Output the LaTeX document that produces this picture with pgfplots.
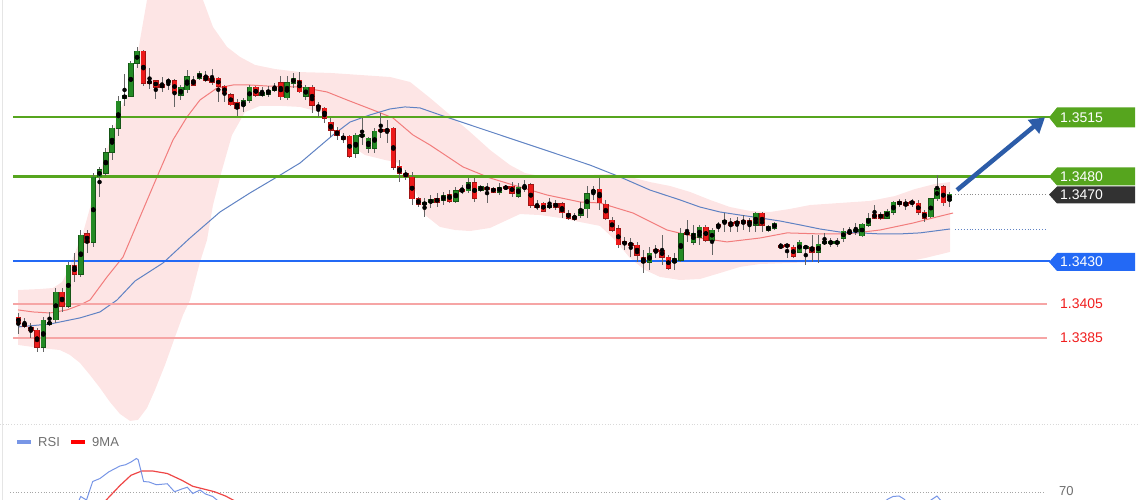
\documentclass[border=0pt]{standalone}
\usepackage{pgfplots}
\pgfplotsset{compat=1.18}
\usepackage{pgfplotstable}
\usepgfplotslibrary{fillbetween}
\usetikzlibrary{arrows.meta}
\usepackage{fontspec}
\setmainfont{Liberation Sans}

\definecolor{cgreen}{RGB}{36,138,36}
\definecolor{cgreenD}{RGB}{22,86,22}
\definecolor{cred}{RGB}{236,26,26}
\definecolor{credD}{RGB}{160,20,20}
\definecolor{wick}{RGB}{100,100,100}
\definecolor{band}{RGB}{253,229,229}
\definecolor{maRed}{RGB}{242,125,125}
\definecolor{maBlue}{RGB}{95,130,195}
\definecolor{lvlGreen}{RGB}{86,165,30}
\definecolor{lvlBlue}{RGB}{35,105,245}
\definecolor{lvlRed}{RGB}{246,165,165}
\definecolor{txtRed}{RGB}{240,30,30}
\definecolor{arrowBlue}{RGB}{44,92,168}
\definecolor{tagDark}{RGB}{50,50,50}
\definecolor{rsiBlue}{RGB}{120,150,230}
\definecolor{rsiRed}{RGB}{238,70,70}
\definecolor{txtGray}{RGB}{110,110,110}

\pgfplotstableread{
i o h l c
0 1.33973 1.33997 1.33873 1.33938
1 1.33938 1.33968 1.33909 1.33920
2 1.33915 1.33938 1.33850 1.33897
3 1.33897 1.33909 1.33767 1.33797
4 1.33797 1.33973 1.33767 1.33956
5 1.33932 1.34003 1.33926 1.33944
6 1.33956 1.34144 1.33938 1.34120
7 1.34120 1.34144 1.34003 1.34038
8 1.34038 1.34297 1.34026 1.34279
9 1.34279 1.34350 1.34179 1.34226
10 1.34226 1.34485 1.34209 1.34456
11 1.34462 1.34485 1.34350 1.34415
12 1.34415 1.34820 1.34385 1.34797
13 1.34797 1.34856 1.34679 1.34838
14 1.34820 1.34968 1.34803 1.34938
15 1.34944 1.35103 1.34897 1.35085
16 1.35085 1.35273 1.35038 1.35244
17 1.35262 1.35403 1.35215 1.35279
18 1.35273 1.35479 1.35268 1.35467
19 1.35467 1.35562 1.35438 1.35538
20 1.35538 1.35544 1.35332 1.35350
21 1.35362 1.35438 1.35315 1.35350
22 1.35362 1.35367 1.35256 1.35326
23 1.35338 1.35385 1.35297 1.35326
24 1.35356 1.35379 1.35309 1.35367
25 1.35362 1.35373 1.35209 1.35297
26 1.35279 1.35338 1.35250 1.35326
27 1.35309 1.35426 1.35291 1.35385
28 1.35367 1.35391 1.35332 1.35338
29 1.35379 1.35420 1.35367 1.35409
30 1.35385 1.35420 1.35356 1.35367
31 1.35379 1.35432 1.35338 1.35356
32 1.35379 1.35385 1.35238 1.35332
33 1.35332 1.35338 1.35238 1.35291
34 1.35279 1.35291 1.35215 1.35220
35 1.35238 1.35256 1.35156 1.35203
36 1.35215 1.35262 1.35179 1.35244
37 1.35250 1.35338 1.35232 1.35326
38 1.35326 1.35332 1.35268 1.35279
39 1.35279 1.35326 1.35268 1.35297
40 1.35285 1.35332 1.35268 1.35303
41 1.35309 1.35350 1.35297 1.35326
42 1.35350 1.35391 1.35250 1.35268
43 1.35262 1.35391 1.35250 1.35350
44 1.35350 1.35409 1.35320 1.35379
45 1.35367 1.35414 1.35291 1.35297
46 1.35273 1.35338 1.35250 1.35326
47 1.35326 1.35338 1.35173 1.35220
48 1.35220 1.35238 1.35150 1.35203
49 1.35203 1.35209 1.35115 1.35144
50 1.35120 1.35144 1.35032 1.35073
51 1.35073 1.35091 1.35015 1.35044
52 1.35038 1.35056 1.34997 1.35020
53 1.35038 1.35044 1.34909 1.34920
54 1.34938 1.35056 1.34909 1.35044
55 1.35038 1.35144 1.34985 1.35044
56 1.34968 1.35032 1.34938 1.35026
57 1.34968 1.35085 1.34938 1.35068
58 1.35073 1.35173 1.35026 1.35068
59 1.35079 1.35132 1.34997 1.35068
60 1.35085 1.35091 1.34838 1.34856
61 1.34862 1.34897 1.34767 1.34820
62 1.34820 1.34838 1.34779 1.34803
63 1.34797 1.34826 1.34632 1.34668
64 1.34668 1.34679 1.34620 1.34638
65 1.34638 1.34673 1.34562 1.34644
66 1.34644 1.34691 1.34615 1.34662
67 1.34673 1.34703 1.34620 1.34650
68 1.34662 1.34709 1.34632 1.34691
69 1.34697 1.34720 1.34644 1.34656
70 1.34656 1.34738 1.34644 1.34715
71 1.34720 1.34750 1.34697 1.34715
72 1.34715 1.34791 1.34703 1.34762
73 1.34762 1.34791 1.34650 1.34673
74 1.34720 1.34750 1.34709 1.34738
75 1.34732 1.34762 1.34644 1.34726
76 1.34732 1.34738 1.34703 1.34709
77 1.34709 1.34762 1.34691 1.34738
78 1.34738 1.34750 1.34720 1.34732
79 1.34744 1.34767 1.34679 1.34703
80 1.34685 1.34762 1.34673 1.34738
81 1.34738 1.34779 1.34709 1.34732
82 1.34750 1.34762 1.34615 1.34632
83 1.34632 1.34662 1.34603 1.34620
84 1.34644 1.34650 1.34591 1.34597
85 1.34620 1.34673 1.34609 1.34632
86 1.34644 1.34662 1.34603 1.34620
87 1.34638 1.34650 1.34556 1.34585
88 1.34585 1.34603 1.34544 1.34556
89 1.34568 1.34585 1.34538 1.34550
90 1.34573 1.34650 1.34556 1.34609
91 1.34609 1.34744 1.34556 1.34697
92 1.34709 1.34744 1.34662 1.34720
93 1.34726 1.34791 1.34603 1.34644
94 1.34638 1.34662 1.34544 1.34556
95 1.34544 1.34562 1.34473 1.34485
96 1.34491 1.34515 1.34379 1.34397
97 1.34415 1.34444 1.34368 1.34403
98 1.34409 1.34438 1.34326 1.34397
99 1.34397 1.34415 1.34297 1.34338
100 1.34326 1.34368 1.34232 1.34297
101 1.34297 1.34385 1.34250 1.34350
102 1.34368 1.34397 1.34320 1.34362
103 1.34368 1.34456 1.34279 1.34326
104 1.34326 1.34338 1.34250 1.34262
105 1.34297 1.34350 1.34250 1.34320
106 1.34309 1.34497 1.34297 1.34468
107 1.34473 1.34544 1.34415 1.34462
108 1.34415 1.34515 1.34397 1.34468
109 1.34444 1.34515 1.34397 1.34503
110 1.34503 1.34515 1.34415 1.34426
111 1.34426 1.34497 1.34338 1.34485
112 1.34515 1.34532 1.34473 1.34509
113 1.34532 1.34585 1.34473 1.34538
114 1.34532 1.34556 1.34473 1.34515
115 1.34532 1.34562 1.34473 1.34526
116 1.34544 1.34573 1.34485 1.34526
117 1.34544 1.34556 1.34473 1.34515
118 1.34515 1.34591 1.34473 1.34585
119 1.34585 1.34591 1.34473 1.34515
120 1.34485 1.34515 1.34473 1.34503
121 1.34497 1.34532 1.34485 1.34526
122 1.34391 1.34409 1.34379 1.34385
123 1.34397 1.34403 1.34320 1.34391
124 1.34385 1.34397 1.34320 1.34332
125 1.34356 1.34426 1.34350 1.34415
126 1.34379 1.34397 1.34279 1.34391
127 1.34385 1.34456 1.34297 1.34356
128 1.34356 1.34456 1.34291 1.34403
129 1.34409 1.34468 1.34397 1.34415
130 1.34409 1.34438 1.34385 1.34415
131 1.34409 1.34438 1.34385 1.34415
132 1.34438 1.34497 1.34415 1.34479
133 1.34473 1.34503 1.34456 1.34468
134 1.34479 1.34526 1.34456 1.34485
135 1.34450 1.34526 1.34444 1.34520
136 1.34515 1.34585 1.34503 1.34556
137 1.34579 1.34632 1.34550 1.34556
138 1.34579 1.34591 1.34544 1.34556
139 1.34556 1.34609 1.34550 1.34597
140 1.34591 1.34656 1.34573 1.34650
141 1.34650 1.34668 1.34620 1.34638
142 1.34650 1.34668 1.34603 1.34632
143 1.34650 1.34668 1.34620 1.34644
144 1.34644 1.34662 1.34573 1.34591
145 1.34591 1.34603 1.34532 1.34556
146 1.34562 1.34673 1.34556 1.34668
147 1.34668 1.34809 1.34656 1.34732
148 1.34738 1.34750 1.34626 1.34644
149 1.34662 1.34709 1.34620 1.34697
}\candles

\begin{document}
\begin{tikzpicture}[x=1pt,y=1pt]

% ---------------- main price panel ----------------
\begin{axis}[at={(0pt,75pt)}, anchor=south west, scale only axis,
  width=1140pt, height=425pt, xmin=0, xmax=1140,
  ymin=1.33338, ymax=1.35838, hide axis, clip=true]

% Bollinger band
\addplot[draw=none, name path=up, forget plot] coordinates {
(18,1.34132) (40,1.34138) (53,1.34144) (62,1.34179) (67,1.34232) (80,1.34426)
(83,1.34468) (97,1.34762) (110,1.35015) (120,1.35191) (133,1.35350) (140,1.35603)
(147,1.35838) (152,1.35956) (195,1.35956) (203,1.35838) (213,1.35679) (227,1.35562)
(240,1.35503) (255,1.35456) (275,1.35432) (300,1.35414) (330,1.35409) (360,1.35397)
(390,1.35385) (410,1.35356) (430,1.35262) (450,1.35162) (470,1.35062) (490,1.34956)
(510,1.34867) (525,1.34820) (545,1.34797) (570,1.34797) (590,1.34809) (610,1.34814)
(630,1.34797) (650,1.34767) (670,1.34744) (690,1.34709) (710,1.34662) (730,1.34620)
(750,1.34597) (770,1.34591) (790,1.34609) (810,1.34632) (840,1.34644) (870,1.34656)
(895,1.34685) (915,1.34726) (935,1.34756) (950,1.34767)};
\addplot[draw=none, name path=lo, forget plot] coordinates {
(18,1.33809) (40,1.33791) (60,1.33779) (70,1.33750) (80,1.33703) (90,1.33632)
(100,1.33556) (110,1.33473) (120,1.33403) (130,1.33362) (138,1.33368) (147,1.33438)
(155,1.33544) (165,1.33691) (175,1.33856) (183,1.33985) (190,1.34073) (200,1.34297)
(207,1.34426) (213,1.34632) (222,1.34838) (232,1.35044) (245,1.35179) (260,1.35215)
(280,1.35215) (300,1.35209) (320,1.35179) (335,1.35103) (350,1.34985) (365,1.34926)
(385,1.34897) (400,1.34879) (413,1.34750) (425,1.34573) (440,1.34503) (455,1.34485)
(470,1.34479) (490,1.34497) (505,1.34538) (520,1.34579) (540,1.34573) (560,1.34556)
(580,1.34532) (600,1.34509) (615,1.34426) (630,1.34320) (645,1.34250) (660,1.34209)
(680,1.34191) (700,1.34197) (720,1.34232) (740,1.34268) (760,1.34285) (790,1.34291)
(820,1.34297) (850,1.34297) (880,1.34303) (905,1.34297) (925,1.34320) (950,1.34356)};
\addplot[band, draw=none, on layer=main] fill between[of=up and lo];

% moving averages
\addplot[maRed, line width=1pt] coordinates {
(18,1.34015) (33,1.34003) (50,1.33997) (67,1.34015) (80,1.34044) (90,1.34073)
(107,1.34209) (123,1.34326) (140,1.34562) (157,1.34797) (173,1.35015) (187,1.35150)
(200,1.35250) (217,1.35320) (233,1.35338) (250,1.35338) (267,1.35332) (300,1.35326)
(327,1.35297) (347,1.35250) (373,1.35191) (393,1.35144) (413,1.35044) (430,1.34985)
(463,1.34856) (490,1.34791) (513,1.34750) (547,1.34691) (580,1.34650) (600,1.34644)
(633,1.34585) (667,1.34485) (700,1.34438) (727,1.34415) (760,1.34438) (787,1.34468)
(820,1.34462) (847,1.34462) (880,1.34485) (913,1.34526) (937,1.34562) (953,1.34585)};
\addplot[maBlue, line width=1pt] coordinates {
(18,1.33915) (50,1.33932) (80,1.33968) (100,1.34003) (117,1.34073) (135,1.34185)
(163,1.34291) (190,1.34438) (220,1.34591) (250,1.34703) (277,1.34797) (300,1.34879)
(333,1.35044) (350,1.35120) (370,1.35162) (390,1.35197) (405,1.35209) (420,1.35203)
(440,1.35162) (470,1.35103) (500,1.35044) (530,1.34985) (560,1.34926) (590,1.34867)
(620,1.34797) (650,1.34720) (680,1.34662) (700,1.34620) (720,1.34591) (740,1.34573)
(760,1.34556) (780,1.34538) (800,1.34515) (820,1.34491) (840,1.34473) (860,1.34468)
(880,1.34462) (900,1.34462) (920,1.34468) (950,1.34491)};

% level lines
\addplot[lvlGreen, line width=2.6pt] coordinates {(13,1.3515) (1050,1.3515)};
\addplot[lvlGreen, line width=2.6pt] coordinates {(13,1.3480) (1050,1.3480)};
\addplot[lvlBlue, line width=2pt] coordinates {(13,1.3430) (1050,1.3430)};
\addplot[lvlRed, line width=1.8pt] coordinates {(13,1.3405) (1047,1.3405)};
\addplot[lvlRed, line width=1.8pt] coordinates {(13,1.3385) (1047,1.3385)};
\addplot[black!45, dotted, line width=0.9pt] coordinates {(955,1.34697) (1047,1.34697)};
\addplot[maBlue, dotted, line width=0.9pt] coordinates {(955,1.34491) (1047,1.34491)};

% candles: wicks
\addplot[only marks, mark=none, error bars/.cd, y dir=both, y explicit,
  error mark=none, error bar style={draw=wick, line width=1pt}]
  table[x expr=18.3+6.25*\thisrow{i}, y expr=(\thisrow{h}+\thisrow{l})/2,
        y error expr=(\thisrow{h}-\thisrow{l})/2] {\candles};
% green bodies
\addplot[only marks, mark=none, restrict expr to domain={\thisrow{c}-\thisrow{o}}{0:1},
  error bars/.cd, y dir=both, y explicit, error mark=none,
  error bar style={draw=cgreenD, line width=5.4pt}]
  table[x expr=18.3+6.25*\thisrow{i}, y expr=(\thisrow{o}+\thisrow{c})/2,
        y error expr={max(abs(\thisrow{c}-\thisrow{o})/2,0.00005)+0.00003}] {\candles};
\addplot[only marks, mark=none, restrict expr to domain={\thisrow{c}-\thisrow{o}}{0:1},
  error bars/.cd, y dir=both, y explicit, error mark=none,
  error bar style={draw=cgreen, line width=4.1pt}]
  table[x expr=18.3+6.25*\thisrow{i}, y expr=(\thisrow{o}+\thisrow{c})/2,
        y error expr={max(abs(\thisrow{c}-\thisrow{o})/2,0.00005)}] {\candles};
% red bodies
\addplot[only marks, mark=none, restrict expr to domain={\thisrow{c}-\thisrow{o}}{-1:0},
  error bars/.cd, y dir=both, y explicit, error mark=none,
  error bar style={draw=credD, line width=5.4pt}]
  table[x expr=18.3+6.25*\thisrow{i}, y expr=(\thisrow{o}+\thisrow{c})/2,
        y error expr={max(abs(\thisrow{c}-\thisrow{o})/2,0.00005)+0.00003}] {\candles};
\addplot[only marks, mark=none, restrict expr to domain={\thisrow{c}-\thisrow{o}}{-1:0},
  error bars/.cd, y dir=both, y explicit, error mark=none,
  error bar style={draw=cred, line width=4.1pt}]
  table[x expr=18.3+6.25*\thisrow{i}, y expr=(\thisrow{o}+\thisrow{c})/2,
        y error expr={max(abs(\thisrow{c}-\thisrow{o})/2,0.00005)}] {\candles};

% arrow
\draw[arrowBlue, line width=4.5pt, -{Triangle[length=15pt,width=17pt]}]
  (axis cs:957,1.34720) -- (axis cs:1045,1.35148);
\end{axis}

% ---------------- RSI panel ----------------
\begin{axis}[at={(0pt,0pt)}, anchor=south west, scale only axis,
  width=1140pt, height=75pt, xmin=0, xmax=1140, ymin=66.8, ymax=96.8,
  hide axis, clip=true]
\addplot[black!35, dotted, line width=0.8pt] coordinates {(10,70) (1045,70)};
\addplot[rsiRed, line width=1.2pt] coordinates {
(98,63.6) (103.6,65.7) (120,72.6) (131,76.7) (141.8,78.4) (152.7,78.4) (167.3,77.4)
(181.8,74.7) (192.7,72.3) (203.6,71.2) (214.5,70.1) (225.5,68.4) (238.2,65.7) (245,63.6)};
\addplot[rsiBlue, line width=1pt] coordinates {
(75,62.8) (78,65.7) (80.7,68.2) (86.5,66.8) (92.7,74.2) (100,75.4) (109,78.1)
(120,80.4) (125.5,80.9) (131,82.0) (136.4,83.4) (138.2,82.9) (143.6,74.2) (149,74.0)
(156.4,72.9) (167.3,73.3) (174.5,70.1) (181.8,71.2) (187.3,71.9) (192.7,69.4)
(200,70.8) (205.5,69.2) (212.7,68.2) (218.2,66.4) (222,64.8)};
\addplot[rsiBlue, line width=1pt] coordinates {
(880,64.8) (888,67.2) (893,68.2) (899,68.4) (904,67.2) (908,65.6) (915,64.4)
(925,64.8) (931,66.8) (937,68.4) (942,66.0) (947,64.4)};
\end{axis}

% separator and left border
\draw[black!15, dotted, line width=0.8pt] (0,76) -- (1140,76);
\draw[black!10] (2,0) -- (2,500);

% ---------------- right-hand tags ----------------
\fill[lvlGreen] (1049,382.5) -- (1057,392.5) -- (1135,392.5) -- (1135,372.5) -- (1057,372.5) -- cycle;
\node[anchor=west, text=white, font=\fontsize{14}{16}\selectfont, inner sep=0pt] at (1060,382.5) {1.3515};
\fill[lvlGreen] (1049,323.5) -- (1057,332.5) -- (1135,332.5) -- (1135,314.5) -- (1057,314.5) -- cycle;
\node[anchor=west, text=white, font=\fontsize{14}{16}\selectfont, inner sep=0pt] at (1060,323.5) {1.3480};
\fill[tagDark] (1049,305.5) -- (1057,313.5) -- (1135,313.5) -- (1135,296.5) -- (1057,296.5) -- cycle;
\node[anchor=west, text=white, font=\fontsize{14}{16}\selectfont, inner sep=0pt] at (1060,305.5) {1.3470};
\fill[lvlBlue] (1049,238) -- (1057,247) -- (1135,247) -- (1135,229) -- (1057,229) -- cycle;
\node[anchor=west, text=white, font=\fontsize{14}{16}\selectfont, inner sep=0pt] at (1060,238) {1.3430};
\node[anchor=west, text=txtRed, font=\fontsize{14}{16}\selectfont, inner sep=0pt] at (1060,196) {1.3405};
\node[anchor=west, text=txtRed, font=\fontsize{14}{16}\selectfont, inner sep=0pt] at (1060,162) {1.3385};

% RSI legend and level label
\draw[rsiBlue, line width=4pt] (17,58) -- (31,58);
\node[anchor=west, text=txtGray, font=\fontsize{13}{15}\selectfont, inner sep=0pt] at (38,58) {RSI};
\draw[red, line width=4pt] (71,58) -- (85,58);
\node[anchor=west, text=txtGray, font=\fontsize{13}{15}\selectfont, inner sep=0pt] at (92,58) {9MA};
\node[anchor=west, text=txtGray, font=\fontsize{13}{15}\selectfont, inner sep=0pt] at (1059,9) {70};

\pgfresetboundingbox
\path (0,0) rectangle (1140,500);
\end{tikzpicture}
\end{document}
